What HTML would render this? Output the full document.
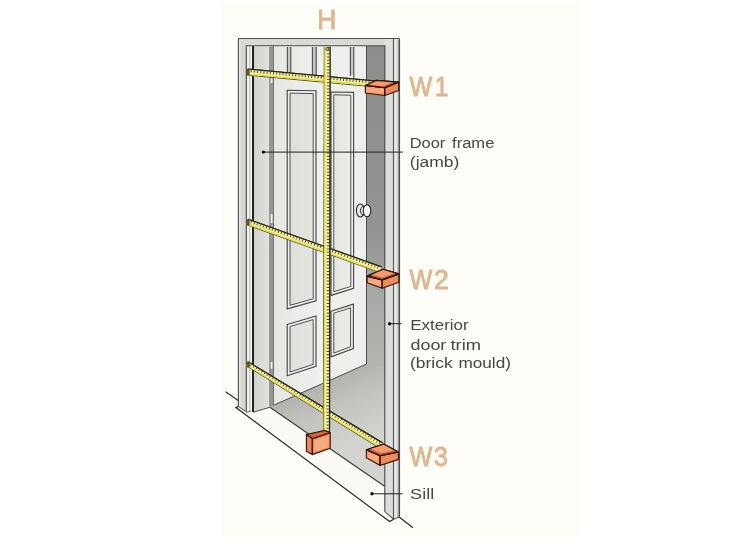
<!DOCTYPE html>
<html lang="en"><head><meta charset="utf-8"><title>How to measure a door</title>
<style>html,body{margin:0;padding:0;background:#fff;}svg{display:block}</style></head>
<body><svg width="750" height="550" viewBox="0 0 750 550">
<rect width="750" height="550" fill="#ffffff"/>
<rect x="221" y="5" width="360" height="533" fill="#fefdf8"/>
<path d="M238.2 406.4 L235.9 407.6 L389.6 521.6 L393.6 519.2 L384.8 511.6 L384.8 486.4 L269.5 407 L253.4 412.2 L247.1 412.3 Z" fill="#fbfaf6"/>
<g fill="none" stroke="#2a2a2a" stroke-width="1.2" stroke-linecap="round">
<path d="M226 392 L238.2 400.6"/>
<path d="M238.2 406.4 L235.9 407.6 L389.6 521.6 L393.7 519.2"/>
<path d="M398.8 516.8 L412.6 527.4"/>
</g>
<defs>
<linearGradient id="dk" gradientUnits="userSpaceOnUse" x1="0" y1="46" x2="0" y2="366"><stop offset="0" stop-color="#8c8c8b"/><stop offset="0.58" stop-color="#949493"/><stop offset="0.77" stop-color="#a7a7a5"/><stop offset="1" stop-color="#b4b4b1"/></linearGradient>
<linearGradient id="fl" gradientUnits="userSpaceOnUse" x1="330" y1="380" x2="358" y2="444"><stop offset="0" stop-color="#b2b2af"/><stop offset="0.4" stop-color="#c3c3bf"/><stop offset="1" stop-color="#d3d3cf"/></linearGradient>
<linearGradient id="door" x1="0" y1="0" x2="1" y2="0"><stop offset="0" stop-color="#e6e6e3"/><stop offset="0.5" stop-color="#f0f0ee"/><stop offset="1" stop-color="#eeeeec"/></linearGradient>
<linearGradient id="jf" x1="0" y1="0" x2="1" y2="0"><stop offset="0" stop-color="#d2d2cf"/><stop offset="1" stop-color="#e0e0dd"/></linearGradient>
<linearGradient id="pan" gradientUnits="userSpaceOnUse" x1="287" y1="0" x2="354" y2="0"><stop offset="0" stop-color="#dededb"/><stop offset="1" stop-color="#ebebe8"/></linearGradient>
<linearGradient id="bf" x1="0" y1="0" x2="0" y2="1"><stop offset="0" stop-color="#ee9266"/><stop offset="0.5" stop-color="#f9ae84"/><stop offset="1" stop-color="#f09468"/></linearGradient>
</defs>
<path d="M269.5 407 L273.7 405.3 L366.5 364 L366.5 360 L385 360 L385 486.4 Z" fill="url(#fl)"/>
<rect x="366.5" y="46" width="18.7" height="320" fill="url(#dk)"/>
<path d="M269.5 407 L384.6 486.2" stroke="#3a3a3a" stroke-width="1.1" fill="none"/>
<path d="M273.5 46.5 L366.5 46.5 L366.5 364 L273.5 405.3 Z" fill="url(#door)"/>
<rect x="287.4" y="47" width="3.4" height="28" fill="#c6c6c3"/>
<path d="M287.4 47 V76 M290.8 47 V78" stroke="#4c4c4c" stroke-width="1.1" fill="none"/>
<rect x="312.4" y="47" width="3.8" height="28" fill="#c6c6c3"/>
<path d="M312.4 47 V76 M316.2 47 V78" stroke="#4c4c4c" stroke-width="1.1" fill="none"/>
<rect x="350.4" y="47" width="3.4" height="28" fill="#c6c6c3"/>
<path d="M350.4 47 V76 M353.8 47 V78" stroke="#4c4c4c" stroke-width="1.1" fill="none"/>
<path d="M287.2 90.3 L316 90.8 L316 300.8 L287.2 308.9 Z" fill="#efefed" stroke="#484848" stroke-width="1.15"/><path d="M290.0 93.1 L313.2 93.6 L313.2 298.8 L290.0 305.3 Z" fill="url(#pan)" stroke="#505050" stroke-width="1"/>
<path d="M331 92 L353.6 92.4 L353.6 288.3 L331 295.4 Z" fill="#efefed" stroke="#484848" stroke-width="1.15"/><path d="M333.8 94.8 L350.8 95.2 L350.8 286.4 L333.8 291.7 Z" fill="url(#pan)" stroke="#505050" stroke-width="1"/>
<path d="M287.2 324.5 L316 316 L316 366.3 L287.2 375.8 Z" fill="#efefed" stroke="#484848" stroke-width="1.15"/><path d="M290.0 326.5 L313.2 319.6 L313.2 364.4 L290.0 372.1 Z" fill="url(#pan)" stroke="#505050" stroke-width="1"/>
<path d="M331 311.2 L353.4 304.1 L353.4 348.6 L331 356.9 Z" fill="#efefed" stroke="#484848" stroke-width="1.15"/><path d="M333.8 313.1 L350.6 307.8 L350.6 346.8 L333.8 353.1 Z" fill="url(#pan)" stroke="#505050" stroke-width="1"/>
<path d="M273.5 46 L273.5 405.3 L366.5 364 L366.5 46" fill="none" stroke="#4a4a4a" stroke-width="1"/>
<ellipse cx="360.3" cy="210.5" rx="3.9" ry="6.5" fill="#ecece9" stroke="#2e2e2e" stroke-width="1.1"/><path d="M363 205.8 Q357.6 210.6 363 215.6" fill="none" stroke="#2e2e2e" stroke-width="1"/><ellipse cx="367" cy="210.8" rx="3.8" ry="6" fill="#f6f6f4" stroke="#222" stroke-width="1.1"/>
<path d="M269.5 46.5 L273.5 46.5 L273.5 405.3 L269.5 407.2 Z" fill="#989897"/>
<path d="M269.6 47 V407" stroke="#505050" stroke-width="1"/>
<rect x="270.3" y="78" width="2.6" height="5.5" fill="#f4f4f2" stroke="#777" stroke-width="0.5"/>
<rect x="270.3" y="213.5" width="2.6" height="10.0" fill="#f4f4f2" stroke="#777" stroke-width="0.5"/>
<rect x="270.3" y="361.5" width="2.6" height="7.5" fill="#f4f4f2" stroke="#777" stroke-width="0.5"/>
<path d="M253.6 46.5 L269.5 46.5 L269.5 407.4 L253.6 412.2 Z" fill="url(#jf)"/>
<path d="M238.3 38.5 L253.6 38.5 L253.6 412.2 L247.1 412.2 L238.3 406.5 Z" fill="#d6d6d3"/>
<path d="M246.4 45.5 L252.4 45.5 L252.4 411 L247.1 412.2 L246.4 411.5 Z" fill="#f1f1ef"/>
<path d="M238.3 38.5 L399.3 38.5 L399.3 46 L238.3 46 Z" fill="#d9d9d6"/>
<path d="M385 46 L393.5 46 L393.5 519.2 L385 511.6 Z" fill="#dddddb"/>
<path d="M393.5 38.5 L399.3 38.5 L399.3 516.8 L393.5 519.2 Z" fill="#dcdcd9"/>
<path d="M385 38.5 L393.5 38.5 L393.5 46 L385 46 Z" fill="#e0e0dd"/>
<g fill="none" stroke="#4e4e4e" stroke-width="1">
<path d="M238.4 406.5 L238.4 39.4 Q238.4 38.5 239.3 38.5 L398.6 38.5 Q399.5 38.5 399.5 39.4 L399.5 516.8 L393.6 519.2 L384.8 511.6 L384.8 46" stroke-width="1.15"/>
<path d="M238.4 406.5 L247.1 412.3 L250.8 411 M253.4 412.2 L269.5 407.4"/>
</g>
<g fill="none" stroke="#7a7a7a" stroke-width="0.8">
<path d="M239.8 406 V40" stroke="#f0f0ee" stroke-width="1"/>
<path d="M398.3 40 V517" stroke="#777"/>
<path d="M396 40 V518" stroke="#ececea" stroke-width="1.2"/>
<path d="M246.3 411.6 V45.6" stroke="#484848" stroke-width="1.1"/>
<path d="M249.7 411.6 V46.4" stroke="#aaa"/>
<path d="M393.4 519 V39" stroke="#4e4e4e" stroke-width="1"/>
</g>
<path d="M253 412 V46" fill="none" stroke="#1a1a1a" stroke-width="1.9"/>
<path d="M245.9 45.7 H385.5" fill="none" stroke="#4a4a4a" stroke-width="1.15"/>
<polygon points="247.62,68.51 376.32,80.41 375.68,87.39 246.98,75.49" fill="#5e5a18"/><polygon points="247.62,68.51 376.32,80.41 376.19,81.81 247.49,69.91" fill="#26240a"/><polygon points="247.51,69.76 376.21,81.66 375.76,86.54 247.06,74.64" fill="#f6f3aa"/><polygon points="247.19,73.17 375.89,85.07 375.76,86.54 247.06,74.64" fill="#e2dc62"/><path d="M248.1 69.8L247.9 72.1M251.3 70.1L251.1 72.4M254.5 70.4L254.3 72.7M257.7 70.6L257.4 73.0M260.9 70.9L260.6 73.3M264.0 71.2L263.8 73.6M267.2 71.5L267.0 73.9M270.4 71.8L270.2 74.2M273.6 72.1L273.4 74.5M276.8 72.4L276.6 74.8M280.0 72.7L279.8 75.1M283.2 73.0L282.9 75.4M286.3 73.3L286.1 75.7M289.5 73.6L289.3 76.0M292.7 73.9L292.5 76.3M295.9 74.2L295.7 76.6M299.1 74.5L298.9 76.8M302.3 74.8L302.1 77.1M305.5 75.1L305.2 77.4M308.7 75.4L308.4 77.7M311.8 75.7L311.6 78.0M315.0 76.0L314.8 78.3M318.2 76.2L318.0 78.6M321.4 76.5L321.2 78.9M324.6 76.8L324.4 79.2M327.8 77.1L327.6 79.5M331.0 77.4L330.7 79.8M334.1 77.7L333.9 80.1M337.3 78.0L337.1 80.4M340.5 78.3L340.3 80.7M343.7 78.6L343.5 81.0M346.9 78.9L346.7 81.3M350.1 79.2L349.9 81.6M353.3 79.5L353.0 81.9M356.4 79.8L356.2 82.2M359.6 80.1L359.4 82.4M362.8 80.4L362.6 82.7M366.0 80.7L365.8 83.0M369.2 81.0L369.0 83.3M372.4 81.3L372.2 83.6M375.6 81.6L375.3 83.9" stroke="#2f2d0e" stroke-width="0.85" fill="none"/>
<polygon points="248.45,218.70 381.65,266.35 379.35,272.75 246.15,225.10" fill="#5e5a18"/><polygon points="248.45,218.70 381.65,266.35 381.17,267.67 247.97,220.02" fill="#26240a"/><polygon points="248.02,219.88 381.22,267.53 379.64,271.95 246.44,224.30" fill="#f6f3aa"/><polygon points="246.92,222.97 380.12,270.62 379.64,271.95 246.44,224.30" fill="#e2dc62"/><path d="M248.6 220.0L247.8 222.2M251.6 221.1L250.8 223.3M254.6 222.2L253.9 224.4M257.6 223.3L256.9 225.4M260.7 224.3L259.9 226.5M263.7 225.4L262.9 227.6M266.7 226.5L265.9 228.7M269.7 227.6L268.9 229.8M272.7 228.7L271.9 230.8M275.7 229.7L274.9 231.9M278.7 230.8L278.0 233.0M281.7 231.9L281.0 234.1M284.8 233.0L284.0 235.1M287.8 234.0L287.0 236.2M290.8 235.1L290.0 237.3M293.8 236.2L293.0 238.4M296.8 237.3L296.0 239.5M299.8 238.4L299.0 240.5M302.8 239.4L302.1 241.6M305.9 240.5L305.1 242.7M308.9 241.6L308.1 243.8M311.9 242.7L311.1 244.8M314.9 243.7L314.1 245.9M317.9 244.8L317.1 247.0M320.9 245.9L320.1 248.1M323.9 247.0L323.2 249.2M326.9 248.1L326.2 250.2M330.0 249.1L329.2 251.3M333.0 250.2L332.2 252.4M336.0 251.3L335.2 253.5M339.0 252.4L338.2 254.5M342.0 253.4L341.2 255.6M345.0 254.5L344.2 256.7M348.0 255.6L347.3 257.8M351.0 256.7L350.3 258.9M354.1 257.8L353.3 259.9M357.1 258.8L356.3 261.0M360.1 259.9L359.3 262.1M363.1 261.0L362.3 263.2M366.1 262.1L365.3 264.2M369.1 263.1L368.3 265.3M372.1 264.2L371.4 266.4M375.2 265.3L374.4 267.5M378.2 266.4L377.4 268.6" stroke="#2f2d0e" stroke-width="0.85" fill="none"/>
<polygon points="248.71,361.49 382.80,442.35 379.20,448.25 245.89,366.11" fill="#5e5a18"/><polygon points="248.71,361.49 382.80,442.35 382.07,443.55 247.98,362.69" fill="#26240a"/><polygon points="248.05,362.56 382.15,443.42 379.65,447.52 246.34,365.38" fill="#f6f3aa"/><polygon points="246.85,364.53 380.40,446.29 379.65,447.52 246.34,365.38" fill="#e2dc62"/><path d="M248.6 362.8L247.6 364.4M251.3 364.5L250.4 366.1M254.1 366.1L253.1 367.7M256.8 367.8L255.8 369.4M259.6 369.4L258.6 371.0M262.3 371.1L261.3 372.7M265.0 372.7L264.0 374.4M267.8 374.4L266.8 376.0M270.5 376.0L269.5 377.7M273.3 377.7L272.3 379.4M276.0 379.4L275.0 381.0M278.7 381.0L277.7 382.7M281.5 382.7L280.5 384.3M284.2 384.3L283.2 386.0M287.0 386.0L285.9 387.7M289.7 387.6L288.7 389.3M292.4 389.3L291.4 391.0M295.2 390.9L294.1 392.6M297.9 392.6L296.9 394.3M300.7 394.2L299.6 396.0M303.4 395.9L302.3 397.6M306.1 397.5L305.1 399.3M308.9 399.2L307.8 400.9M311.6 400.8L310.5 402.6M314.4 402.5L313.3 404.3M317.1 404.1L316.0 405.9M319.8 405.8L318.7 407.6M322.6 407.4L321.5 409.3M325.3 409.1L324.2 410.9M328.1 410.8L327.0 412.6M330.8 412.4L329.7 414.2M333.5 414.1L332.4 415.9M336.3 415.7L335.2 417.6M339.0 417.4L337.9 419.2M341.8 419.0L340.6 420.9M344.5 420.7L343.4 422.5M347.2 422.3L346.1 424.2M350.0 424.0L348.8 425.9M352.7 425.6L351.6 427.5M355.5 427.3L354.3 429.2M358.2 428.9L357.0 430.9M360.9 430.6L359.8 432.5M363.7 432.2L362.5 434.2M366.4 433.9L365.2 435.8M369.2 435.5L368.0 437.5M371.9 437.2L370.7 439.2M374.7 438.8L373.4 440.8M377.4 440.5L376.2 442.5M380.1 442.1L378.9 444.1" stroke="#2f2d0e" stroke-width="0.85" fill="none"/>
<rect x="246.6" y="69.1" width="3" height="6" fill="#5a5520"/>
<rect x="246.6" y="219.3" width="3" height="6" fill="#5a5520"/>
<rect x="246.8" y="361.5" width="3" height="6" fill="#5a5520"/>
<polygon points="330.65,46.81 330.10,433.01 322.90,432.99 323.75,46.79" fill="#5e5a18"/><polygon points="330.65,46.81 330.10,433.01 328.70,433.00 329.25,46.80" fill="#26240a"/><polygon points="329.40,46.80 328.85,433.00 323.75,433.00 324.60,46.80" fill="#f6f3aa"/><polygon points="326.04,46.80 325.28,433.00 323.75,433.00 324.60,46.80" fill="#e2dc62"/><path d="M329.4 47.4L327.1 47.4M329.4 50.6L327.1 50.6M329.4 53.8L327.1 53.8M329.4 57.0L327.1 57.0M329.4 60.2L327.1 60.2M329.4 63.4L327.1 63.4M329.4 66.6L327.1 66.6M329.4 69.8L327.1 69.8M329.4 73.0L327.1 73.0M329.4 76.2L327.1 76.2M329.4 79.4L327.0 79.4M329.4 82.6L327.0 82.6M329.4 85.8L327.0 85.8M329.4 89.0L327.0 89.0M329.4 92.2L327.0 92.2M329.4 95.4L327.0 95.4M329.4 98.6L327.0 98.6M329.4 101.8L327.0 101.8M329.4 105.0L327.0 105.0M329.4 108.2L327.0 108.2M329.4 111.4L327.0 111.4M329.4 114.6L327.0 114.6M329.3 117.8L327.0 117.8M329.3 121.0L327.0 121.0M329.3 124.2L327.0 124.2M329.3 127.4L327.0 127.4M329.3 130.6L327.0 130.6M329.3 133.8L327.0 133.8M329.3 137.0L327.0 137.0M329.3 140.2L326.9 140.2M329.3 143.4L326.9 143.4M329.3 146.6L326.9 146.6M329.3 149.8L326.9 149.8M329.3 153.0L326.9 153.0M329.3 156.2L326.9 156.2M329.3 159.4L326.9 159.4M329.3 162.6L326.9 162.6M329.3 165.8L326.9 165.8M329.3 169.0L326.9 169.0M329.3 172.2L326.9 172.2M329.3 175.4L326.9 175.4M329.3 178.6L326.9 178.6M329.3 181.8L326.9 181.8M329.3 185.0L326.9 185.0M329.2 188.2L326.9 188.2M329.2 191.4L326.9 191.4M329.2 194.6L326.9 194.6M329.2 197.8L326.8 197.8M329.2 201.0L326.8 201.0M329.2 204.2L326.8 204.2M329.2 207.4L326.8 207.4M329.2 210.6L326.8 210.6M329.2 213.8L326.8 213.8M329.2 217.0L326.8 217.0M329.2 220.2L326.8 220.2M329.2 223.4L326.8 223.4M329.2 226.6L326.8 226.6M329.2 229.8L326.8 229.8M329.2 233.0L326.8 233.0M329.2 236.2L326.8 236.2M329.2 239.4L326.8 239.4M329.2 242.6L326.8 242.6M329.2 245.8L326.8 245.8M329.2 249.0L326.8 249.0M329.2 252.2L326.8 252.2M329.2 255.4L326.8 255.4M329.1 258.6L326.7 258.6M329.1 261.8L326.7 261.8M329.1 265.0L326.7 265.0M329.1 268.2L326.7 268.2M329.1 271.4L326.7 271.4M329.1 274.6L326.7 274.6M329.1 277.8L326.7 277.8M329.1 281.0L326.7 281.0M329.1 284.2L326.7 284.2M329.1 287.4L326.7 287.4M329.1 290.6L326.7 290.6M329.1 293.8L326.7 293.8M329.1 297.0L326.7 297.0M329.1 300.2L326.7 300.2M329.1 303.4L326.7 303.4M329.1 306.6L326.7 306.6M329.1 309.8L326.7 309.8M329.1 313.0L326.7 313.0M329.1 316.2L326.6 316.2M329.1 319.4L326.6 319.4M329.1 322.6L326.6 322.6M329.1 325.8L326.6 325.8M329.0 329.0L326.6 329.0M329.0 332.2L326.6 332.2M329.0 335.4L326.6 335.4M329.0 338.6L326.6 338.6M329.0 341.8L326.6 341.8M329.0 345.0L326.6 345.0M329.0 348.2L326.6 348.2M329.0 351.4L326.6 351.4M329.0 354.6L326.6 354.6M329.0 357.8L326.6 357.8M329.0 361.0L326.6 361.0M329.0 364.2L326.6 364.2M329.0 367.4L326.6 367.4M329.0 370.6L326.6 370.6M329.0 373.8L326.6 373.8M329.0 377.0L326.5 377.0M329.0 380.2L326.5 380.2M329.0 383.4L326.5 383.4M329.0 386.6L326.5 386.6M329.0 389.8L326.5 389.8M329.0 393.0L326.5 393.0M329.0 396.2L326.5 396.2M328.9 399.4L326.5 399.4M328.9 402.6L326.5 402.6M328.9 405.8L326.5 405.8M328.9 409.0L326.5 409.0M328.9 412.2L326.5 412.2M328.9 415.4L326.5 415.4M328.9 418.6L326.5 418.6M328.9 421.8L326.5 421.8M328.9 425.0L326.5 425.0M328.9 428.2L326.5 428.2M328.9 431.4L326.5 431.4" stroke="#2f2d0e" stroke-width="0.85" fill="none"/>
<circle cx="327.2" cy="49" r="1.5" fill="#bdb86a" stroke="#444" stroke-width="0.7"/>
<polygon points="365.4,85.5 384.8,87.8 384.8,95.5 365.4,93.0" fill="url(#bf)" stroke="#35140a" stroke-width="1.15" stroke-linejoin="round"/><polygon points="384.8,87.8 398.6,82.1 398.6,90.5 384.8,95.5" fill="#ec8c5e" stroke="#35140a" stroke-width="1.15" stroke-linejoin="round"/><polygon points="365.4,85.5 376.2,80.4 398.6,82.1 384.8,87.8" fill="#bf6038" stroke="#35140a" stroke-width="1.15" stroke-linejoin="round"/><polygon points="367.8,84.4 376.2,80.4 393.7,81.7 382.9,86.2" fill="#f29c72" stroke="none" stroke-width="0" stroke-linejoin="round"/><polygon points="365.4,85.5 376.2,80.4 398.6,82.1 384.8,87.8" fill="none" stroke="#35140a" stroke-width="1.15" stroke-linejoin="round"/><path d="M384.8 87.8 V95.5" stroke="#35140a" stroke-width="1" fill="none"/>
<polygon points="367.1,276.1 382.2,279.9 382.2,288.3 367.1,282.7" fill="url(#bf)" stroke="#35140a" stroke-width="1.15" stroke-linejoin="round"/><polygon points="382.2,279.9 398.8,273.9 398.8,282.2 382.2,288.3" fill="#ec8c5e" stroke="#35140a" stroke-width="1.15" stroke-linejoin="round"/><polygon points="367.1,276.1 383.0,269.2 398.8,273.9 382.2,279.9" fill="#bf6038" stroke="#35140a" stroke-width="1.15" stroke-linejoin="round"/><polygon points="370.6,274.6 383.0,269.2 395.3,272.9 382.4,277.5" fill="#f29c72" stroke="none" stroke-width="0" stroke-linejoin="round"/><polygon points="367.1,276.1 383.0,269.2 398.8,273.9 382.2,279.9" fill="none" stroke="#35140a" stroke-width="1.15" stroke-linejoin="round"/><path d="M382.2 279.9 V288.3" stroke="#35140a" stroke-width="1" fill="none"/>
<polygon points="366.4,449.7 380.1,455.8 380.1,465.5 366.4,457.7" fill="url(#bf)" stroke="#35140a" stroke-width="1.15" stroke-linejoin="round"/><polygon points="380.1,455.8 398.4,452.0 398.4,459.4 380.1,465.5" fill="#ec8c5e" stroke="#35140a" stroke-width="1.15" stroke-linejoin="round"/><polygon points="366.4,449.7 383.6,444.1 398.4,452.0 380.1,455.8" fill="#bf6038" stroke="#35140a" stroke-width="1.15" stroke-linejoin="round"/><polygon points="370.2,448.5 383.6,444.1 395.1,450.3 380.9,453.2" fill="#f29c72" stroke="none" stroke-width="0" stroke-linejoin="round"/><polygon points="366.4,449.7 383.6,444.1 398.4,452.0 380.1,455.8" fill="none" stroke="#35140a" stroke-width="1.15" stroke-linejoin="round"/><path d="M380.1 455.8 V465.5" stroke="#35140a" stroke-width="1" fill="none"/>
<polygon points="306.4,434.5 325.0,430.4 330.2,432.7 312.3,438.8" fill="#cf663a" stroke="#35140a" stroke-width="1.15" stroke-linejoin="round"/>
<polygon points="306.4,434.5 312.3,438.8 312.3,454.6 306.4,451.3" fill="#ea875a" stroke="#35140a" stroke-width="1.15" stroke-linejoin="round"/>
<polygon points="312.3,438.8 330.2,432.7 330.2,448.3 312.3,454.6" fill="#ea8a5c" stroke="#35140a" stroke-width="1.15" stroke-linejoin="round"/>
<polygon points="314.2,440.4 328.6,435.5 328.6,446.9 314.2,451.9" fill="#f8aa80" stroke="none" stroke-width="0" stroke-linejoin="round"/>
<g stroke="#222" stroke-width="1" fill="#111">
<line x1="263.4" y1="152.1" x2="403" y2="152.1"/><circle cx="263.4" cy="152.1" r="1.7" stroke="none"/>
<line x1="389.6" y1="323.7" x2="401.5" y2="323.7"/><circle cx="389.6" cy="323.7" r="1.7" stroke="none"/>
<line x1="372" y1="493.8" x2="402.5" y2="493.8"/><circle cx="372" cy="493.8" r="1.7" stroke="none"/>
</g>
<g font-family="'Liberation Sans', Arial, sans-serif" fill="#dcb892" stroke="#dcb892" stroke-width="0.9" stroke-linejoin="round" font-size="26" style="opacity:0.999">
<text transform="translate(317.34 29.18) scale(1.0194 1.04)">H</text>
<text transform="translate(409.46 95.81) scale(0.9216 1.0416)">W</text>
<text transform="translate(434.79 95.81) scale(0.9402 1.0416)">1</text>
<text transform="translate(409.46 289.1) scale(0.9255 1.0631)">W</text>
<text transform="translate(433.91 289.11) scale(1.0196 1.0526)">2</text>
<text transform="translate(409.46 466.0) scale(0.9255 1.0738)">W</text>
<text transform="translate(434.12 465.94) scale(0.9509 1.0597)">3</text>
</g>
<g font-family="'Liberation Sans', Arial, sans-serif" fill="#474747" font-size="15.4" style="opacity:0.999">
<text transform="translate(409.67 147.7) scale(1.0667 1)">Door</text>
<text transform="translate(452.03 147.7) scale(1.0753 1)">frame</text>
<text transform="translate(409.86 166.6) scale(1.1363 1)">(jamb)</text>
<text transform="translate(410.22 330.2) scale(1.1029 1)">Exterior</text>
<text transform="translate(410.47 349.6) scale(1.1649 1)">door</text>
<text transform="translate(450.5 349.6) scale(1.1897 1)">trim</text>
<text transform="translate(410.07 368.4) scale(1.1331 1)">(brick</text>
<text transform="translate(458.49 368.4) scale(1.1147 1)">mould)</text>
<text transform="translate(410.12 498.7) scale(1.1733 1)">Sill</text>
</g>
</svg></body></html>
